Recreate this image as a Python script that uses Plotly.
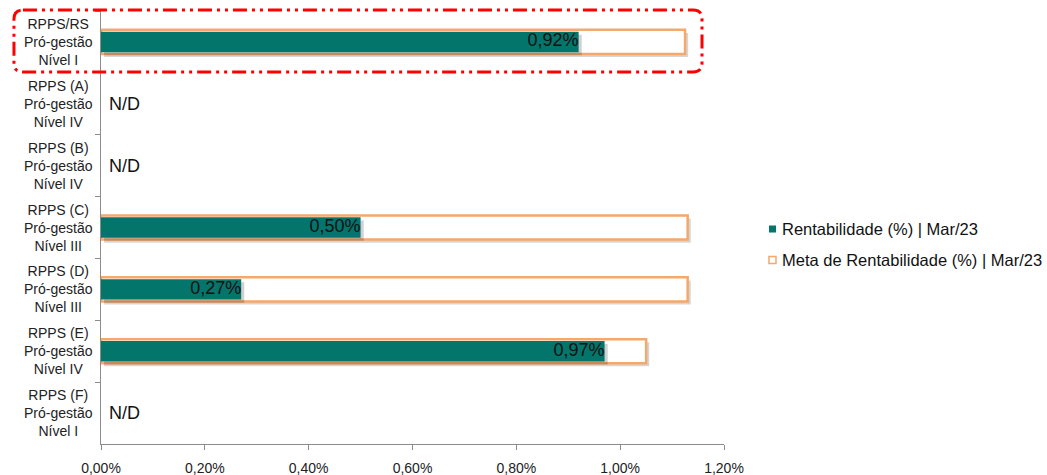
import plotly.graph_objects as go

# Fund labels (top to bottom) and monthly figures, in percent
categories = [
    "RPPS/RS<br>Pró-gestão<br>Nível I",
    "RPPS (A)<br>Pró-gestão<br>Nível IV",
    "RPPS (B)<br>Pró-gestão<br>Nível IV",
    "RPPS (C)<br>Pró-gestão<br>Nível III",
    "RPPS (D)<br>Pró-gestão<br>Nível III",
    "RPPS (E)<br>Pró-gestão<br>Nível IV",
    "RPPS (F)<br>Pró-gestão<br>Nível I",
]
rentabilidade = [0.92, None, None, 0.50, 0.27, 0.97, None]
meta = [1.125, None, None, 1.13, 1.13, 1.05, None]
x_ticks = [0.0, 0.2, 0.4, 0.6, 0.8, 1.0, 1.2]
x_tick_labels = ["0,00%", "0,20%", "0,40%", "0,60%", "0,80%", "1,00%", "1,20%"]
series_names = ["Rentabilidade (%) | Mar/23", "Meta de Rentabilidade (%) | Mar/23"]

TEAL = "#04756B"
ORANGE = "#F4A86C"
FONT = "Liberation Sans, Arial, sans-serif"

W_META = 0.39
W_RENT = 0.33
SHADOW_DY = 0.05
SHADOW_DX = 0.006

PX_W, PX_H = 623.0, 433.0  # plot area size in pixels


def fmt(v):
    return f"{v:.2f}%".replace(".", ",")


fig = go.Figure()

# soft drop shadow under the target bars
fig.add_trace(go.Bar(
    y=categories, x=meta, base=SHADOW_DX, orientation="h",
    width=W_META, offset=-W_META / 2 + SHADOW_DY,
    marker=dict(color="rgba(0,0,0,0.16)", line=dict(width=0)),
    hoverinfo="skip",
))
fig.add_trace(go.Bar(
    y=categories, x=meta, orientation="h", width=W_META,
    name=series_names[1],
    marker=dict(color="white", line=dict(color=ORANGE, width=2.5)),
))
# shadow under the return bars
fig.add_trace(go.Bar(
    y=categories, x=rentabilidade, base=SHADOW_DX, orientation="h",
    width=W_RENT, offset=-W_RENT / 2 + SHADOW_DY,
    marker=dict(color="rgba(0,0,0,0.18)", line=dict(width=0)),
    hoverinfo="skip",
))
fig.add_trace(go.Bar(
    y=categories, x=rentabilidade, orientation="h", width=W_RENT,
    name=series_names[0],
    marker=dict(color=TEAL, line=dict(width=0)),
))

# value labels sitting at the end of each return bar
lab_y = [c for c, v in zip(categories, rentabilidade) if v is not None]
lab_x = [v for v in rentabilidade if v is not None]
fig.add_trace(go.Scatter(
    y=lab_y, x=lab_x, mode="text", text=[fmt(v) for v in lab_x],
    textposition="middle left",
    textfont=dict(family=FONT, size=18, color="#111111"),
    hoverinfo="skip",
))

annotations = []
for c, v in zip(categories, rentabilidade):
    # category labels, centred in the left margin
    annotations.append(dict(
        x=-0.069, xref="paper", y=c, yref="y", text=c, showarrow=False,
        xanchor="center", yanchor="middle", align="center",
        font=dict(family=FONT, size=14, color="#222222"),
    ))
    if v is None:
        annotations.append(dict(
            x=0, xref="x", y=c, yref="y", text="N/D", showarrow=False,
            xanchor="left", yanchor="middle", xshift=6,
            font=dict(family=FONT, size=18, color="#111111"),
        ))

shapes = []

# dash-dot highlight around the first row
x0, x1, y0, y1 = -0.1397, 0.9647, 0.859, 1.0023
rx, ry = 9 / PX_W, 9 / PX_H
path = (
    f"M{x0 + rx},{y1} L{x1 - rx},{y1} Q{x1},{y1} {x1},{y1 - ry} "
    f"L{x1},{y0 + ry} Q{x1},{y0} {x1 - rx},{y0} "
    f"L{x0 + rx},{y0} Q{x0},{y0} {x0},{y0 + ry} "
    f"L{x0},{y1 - ry} Q{x0},{y1} {x0 + rx},{y1} Z"
)
shapes.append(dict(
    type="path", path=path, xref="paper", yref="paper",
    line=dict(color="#FF0000", width=3, dash="14px,5px,3px,5px,3px,5px"),
    fillcolor="rgba(0,0,0,0)", layer="above",
))

# legend: small square key + label per series
key_x0 = 1.0722
key_w = 7 / PX_W
key_h = 3.5 / PX_H
legend_rows = [0.4965, 0.4250]
key_styles = [
    dict(fillcolor=TEAL, line=dict(width=0)),
    dict(fillcolor="white", line=dict(color=ORANGE, width=1.5)),
]
for name, yc, style in zip(series_names, legend_rows, key_styles):
    shapes.append(dict(
        type="rect", xref="paper", yref="paper",
        x0=key_x0, x1=key_x0 + key_w, y0=yc - key_h, y1=yc + key_h, **style,
    ))
    annotations.append(dict(
        x=1.0899, xref="paper", y=yc, yref="paper", text=name,
        showarrow=False, xanchor="left", yanchor="middle",
        font=dict(family=FONT, size=16.5, color="#111111"),
    ))

fig.update_layout(
    width=1047, height=475,
    margin=dict(l=101, r=323, t=11, b=31, autoexpand=False),
    plot_bgcolor="white", paper_bgcolor="white",
    barmode="overlay",
    font=dict(family=FONT, size=14, color="#222222"),
    showlegend=False,
    xaxis=dict(
        range=[0, 1.2], tickvals=x_ticks, ticktext=x_tick_labels,
        showgrid=False, zeroline=False, showline=True, linecolor="#8c8c8c",
        linewidth=1, ticks="outside", ticklen=5, tickcolor="#8c8c8c",
        ticklabelstandoff=6,
        tickfont=dict(family=FONT, size=14, color="#222222"),
        fixedrange=True,
    ),
    yaxis=dict(
        categoryorder="array", categoryarray=categories,
        autorange="reversed", showgrid=False, zeroline=False,
        showline=True, linecolor="#8c8c8c", linewidth=1,
        ticks="outside", ticklen=5, tickcolor="#8c8c8c",
        tickson="boundaries", showticklabels=False, fixedrange=True,
    ),
    annotations=annotations,
    shapes=shapes,
)

fig.write_html("out.html")
